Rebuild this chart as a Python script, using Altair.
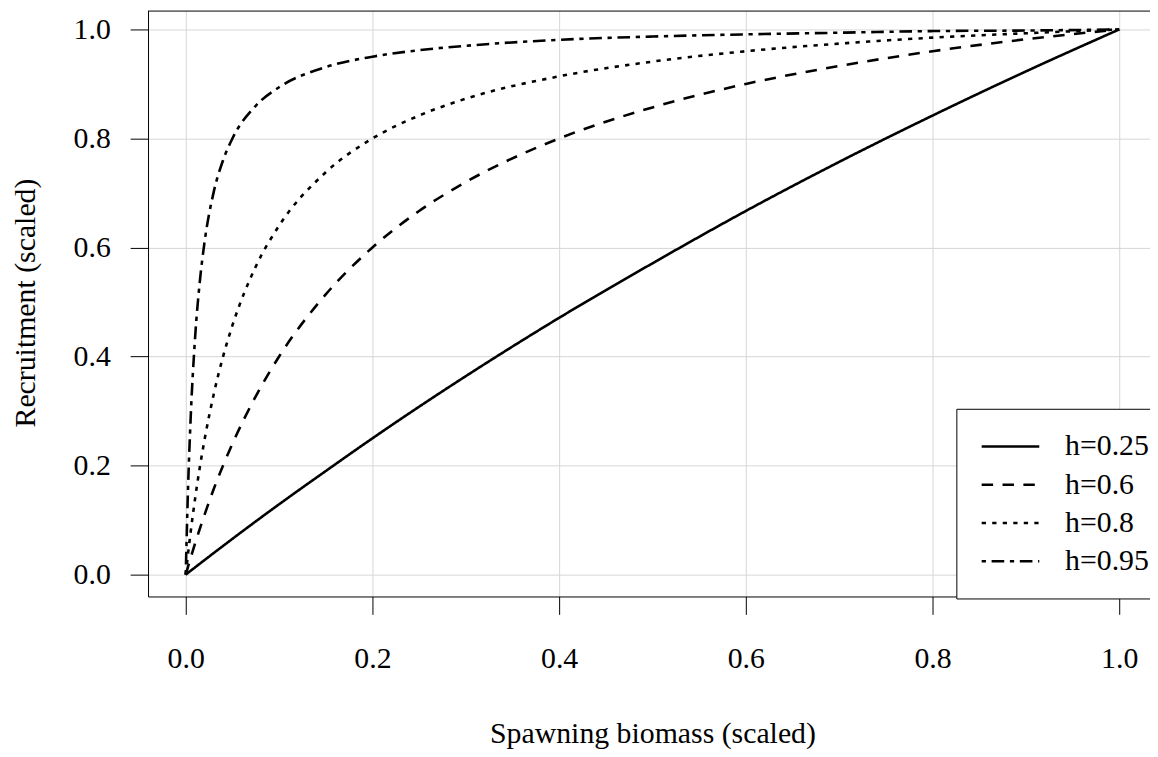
import altair as alt
import pandas as pd

# Spawning biomass (scaled) sample points
S = [0, 0.0025, 0.005, 0.01, 0.015, 0.02, 0.03, 0.04, 0.05, 0.075, 0.1, 0.15,
     0.2, 0.25, 0.3, 0.4, 0.5, 0.6, 0.7, 0.8, 0.9, 1.0]

# Recruitment (scaled) for each steepness value
R_h025 = [0, 0.0033, 0.0067, 0.0133, 0.0199, 0.0265, 0.0396, 0.0526, 0.0656, 0.0976,
          0.129, 0.190, 0.25, 0.308, 0.364, 0.471, 0.571, 0.667, 0.757, 0.842, 0.923, 1.0]
R_h06 = [0, 0.0148, 0.0293, 0.0571, 0.0837, 0.109, 0.157, 0.200, 0.240, 0.327,
         0.400, 0.514, 0.600, 0.667, 0.720, 0.800, 0.857, 0.900, 0.933, 0.960, 0.982, 1.0]
R_h08 = [0, 0.0386, 0.0744, 0.139, 0.196, 0.246, 0.331, 0.400, 0.457, 0.565,
         0.640, 0.738, 0.800, 0.842, 0.873, 0.914, 0.941, 0.960, 0.974, 0.985, 0.993, 1.0]
R_h095 = [0, 0.160, 0.276, 0.434, 0.536, 0.608, 0.702, 0.760, 0.800, 0.860,
          0.894, 0.931, 0.950, 0.962, 0.970, 0.981, 0.987, 0.991, 0.994, 0.997, 0.998, 1.0]

labels = ["h=0.25", "h=0.6", "h=0.8", "h=0.95"]
series = [R_h025, R_h06, R_h08, R_h095]

ticks = [0.0, 0.2, 0.4, 0.6, 0.8, 1.0]

rows = []
for lab, vals in zip(labels, series):
    for s, r in zip(S, vals):
        rows.append({"S": s, "R": r, "h": lab})
df = pd.DataFrame(rows)

FONT = "Liberation Serif"
W, H = 1009, 590

dash_range = [[1, 0], [11.5, 9.5], [4.3, 6.3], [4.3, 5.7, 12.7, 5.7]]

lines = alt.Chart(df).mark_line(
    color="black", strokeWidth=2.6, interpolate="monotone", strokeCap="butt"
).encode(
    x=alt.X("S:Q",
            scale=alt.Scale(domain=[-0.0404, 1.033], nice=False, zero=False),
            axis=alt.Axis(values=ticks, format=".1f",
                          title="Spawning biomass (scaled)",
                          titleX=508, titleY=147, titleBaseline="alphabetic",
                          titleAlign="center",
                          labelPadding=30)),
    y=alt.Y("R:Q",
            scale=alt.Scale(domain=[-0.0401, 1.0346], nice=False, zero=False),
            axis=alt.Axis(values=ticks, format=".1f",
                          title="Recruitment (scaled)",
                          titleX=-114, titleY=294, titleBaseline="alphabetic",
                          titleAlign="center",
                          labelPadding=20)),
    strokeDash=alt.StrokeDash(
        "h:N",
        sort=labels,
        scale=alt.Scale(domain=labels, range=dash_range),
        legend=alt.Legend(
            orient="none", legendX=814, legendY=401, title=None,
            symbolType="M-2,0L2,0", symbolSize=841, symbolStrokeWidth=2.6,
            symbolStrokeColor="black", symbolFillColor="transparent",
            labelFont=FONT, labelFontSize=30, labelColor="black", labelLimit=400,
            strokeColor="black", fillColor="white", padding=22,
            rowPadding=7.5, labelOffset=39, symbolOffset=16.5,
        ),
    ),
)

top_border = alt.Chart(alt.Data(values=[{"k": 0}])).mark_rule(
    color="black", strokeWidth=1
).encode(x=alt.value(0), x2=alt.value(W), y=alt.value(0.5))

chart = alt.layer(lines, top_border).properties(
    width=W, height=H,
    autosize=alt.AutoSizeParams(type="none"),
    padding={"left": 141, "top": 0, "right": 0, "bottom": 152},
).configure_view(stroke=None).configure_axis(
    grid=True, gridColor="#d6d6d6", gridWidth=1,
    domainColor="black", domainWidth=1,
    tickColor="black", tickWidth=1, tickSize=18,
    labelFont=FONT, labelFontSize=30, labelColor="black",
    titleFont=FONT, titleFontSize=30, titleFontWeight="normal", titleColor="black",
)

chart.save("out.html", embed_options={"renderer": "svg", "actions": False})
